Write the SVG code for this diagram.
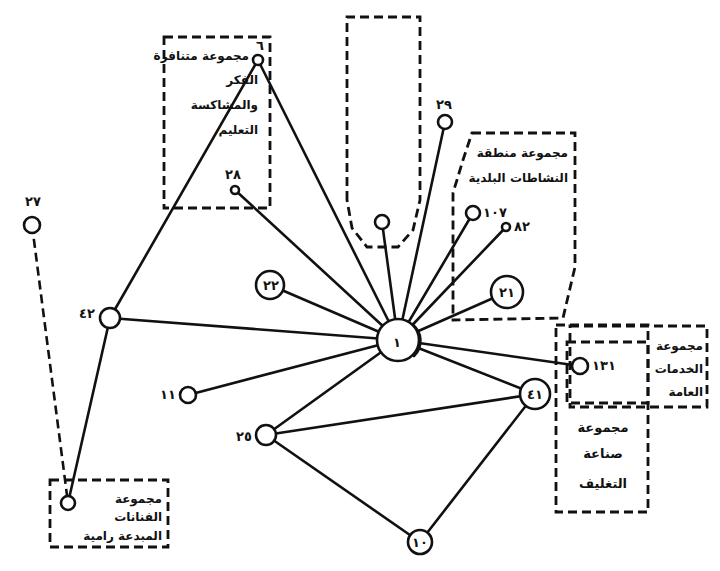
<svg xmlns="http://www.w3.org/2000/svg" width="720" height="571" viewBox="0 0 720 571">
<style>
.e{stroke:#111;stroke-width:2.6;fill:none;stroke-linecap:round}
.d{stroke:#111;stroke-width:2.6;fill:none;stroke-dasharray:9 5}
.g{stroke:#111;stroke-width:2.8;fill:none;stroke-dasharray:9 5}
.n{stroke:#111;stroke-width:2.6;fill:#fff}
.t{font-family:"DejaVu Sans",sans-serif;font-size:13px;font-weight:bold;fill:#111;text-anchor:middle}
.b{font-family:"DejaVu Sans",sans-serif;font-size:12px;font-weight:bold;fill:#111;text-anchor:end}
</style>
<rect width="720" height="571" fill="#fff"/>
<g id="groups">
<rect id="box-topleft" class="g" x="164" y="37" width="106" height="171"/>
<path id="box-tall" class="g" d="M347,200 L347,17 L420,17 L420,200 L413,230 L398,247 L367,247 L352,228 Z"/>
<path id="box-107" class="g" d="M472,133 L575,133 L575,267 L563,318 L453,320 L453,193 L463,160 Z"/>
<rect id="box-services" class="g" x="570" y="326" width="137" height="81"/>
<rect id="box-131" class="g" x="567" y="342" width="81" height="61"/>
<rect id="box-industry" class="g" x="556" y="325" width="92" height="187"/>
<rect id="box-bottomleft" class="g" x="50" y="480" width="118" height="67"/>
<text class="b" x="249" y="60">مجموعة متنافرة</text>
<text class="b" x="258" y="84">الفكر</text>
<text class="b" x="258" y="109">والمشاكسة</text>
<text class="b" x="258" y="134">التعليم</text>
<text class="b" x="568" y="157">مجموعة منطقة</text>
<text class="b" x="568" y="182">النشاطات البلدية</text>
<text class="b" x="703" y="350">مجموعة</text>
<text class="b" x="703" y="373">الخدمات</text>
<text class="b" x="703" y="396">العامة</text>
<text class="t" x="603" y="432">مجموعة</text>
<text class="t" x="603" y="458">صناعة</text>
<text class="t" x="603" y="488">التغليف</text>
<text class="b" x="162" y="503">مجموعة</text>
<text class="b" x="162" y="521">الفنانات</text>
<text class="b" x="162" y="540">المبدعة رامية</text>
</g>
<g id="connectors">
<line class="e" x1="258" y1="60" x2="398" y2="340"/>
<line class="e" x1="258" y1="60" x2="110" y2="318"/>
<line class="e" x1="235" y1="190" x2="398" y2="340"/>
<line class="e" x1="382" y1="222" x2="398" y2="340"/>
<line class="e" x1="445" y1="122" x2="398" y2="340"/>
<line class="e" x1="473" y1="213" x2="398" y2="340"/>
<line class="e" x1="506" y1="227" x2="398" y2="340"/>
<line class="e" x1="507" y1="292" x2="398" y2="340"/>
<line class="e" x1="270" y1="285" x2="398" y2="340"/>
<line class="e" x1="110" y1="318" x2="398" y2="340"/>
<line class="e" x1="188" y1="395" x2="398" y2="340"/>
<line class="e" x1="266" y1="435" x2="398" y2="340"/>
<line class="e" x1="580" y1="366" x2="398" y2="340"/>
<line class="e" x1="535" y1="394" x2="398" y2="340"/>
<line class="e" x1="535" y1="394" x2="266" y2="435"/>
<line class="e" x1="535" y1="394" x2="420" y2="542"/>
<line class="e" x1="266" y1="435" x2="420" y2="542"/>
<line class="e" x1="110" y1="318" x2="68" y2="503"/>
<line class="d" x1="32" y1="225" x2="68" y2="503"/>
</g>
<g id="n1"><circle class="n" cx="398" cy="340" r="21"/><path class="e" d="M412,324 A21,21 0 0 1 414,356"/><text class="t" x="397" y="347" font-size="18">١</text></g>
<g id="n-top"><circle class="n" cx="258" cy="60" r="5"/><text class="t" x="260" y="50" font-size="9">٦</text></g>
<g id="n28"><circle class="n" cx="235" cy="190" r="4"/><text class="t" x="233" y="179" font-size="11">٢٨</text></g>
<g id="n-box"><circle class="n" cx="382" cy="222" r="7"/></g>
<g id="n29"><circle class="n" cx="445" cy="122" r="7"/><text class="t" x="444" y="109" font-size="11">٢٩</text></g>
<g id="n107"><circle class="n" cx="473" cy="213" r="7"/><text class="t" x="495" y="217" font-size="11">١٠٧</text></g>
<g id="n82"><circle class="n" cx="506" cy="227" r="4"/><text class="t" x="522" y="231" font-size="11">٨٢</text></g>
<g id="n21"><circle class="n" cx="507" cy="292" r="16"/><text class="t" x="507" y="297" font-size="12">٢١</text></g>
<g id="n22"><circle class="n" cx="270" cy="285" r="14"/><text class="t" x="271" y="290" font-size="11">٢٢</text></g>
<g id="n42"><circle class="n" cx="110" cy="318" r="10"/><text class="t" x="87" y="318" font-size="11">٤٢</text></g>
<g id="n27"><circle class="n" cx="32" cy="225" r="8"/><text class="t" x="33" y="206" font-size="11">٢٧</text></g>
<g id="n-bl"><circle class="n" cx="68" cy="503" r="7"/></g>
<g id="n11"><circle class="n" cx="188" cy="395" r="8"/><text class="t" x="168" y="399" font-size="11">١١</text></g>
<g id="n25"><circle class="n" cx="266" cy="435" r="10"/><text class="t" x="244" y="441" font-size="11">٢٥</text></g>
<g id="n41"><circle class="n" cx="535" cy="394" r="15"/><text class="t" x="535" y="399" font-size="12">٤١</text></g>
<g id="n10"><circle class="n" cx="420" cy="542" r="12"/><text class="t" x="420" y="547" font-size="11">١٠</text></g>
<g id="n131"><circle class="n" cx="580" cy="366" r="8"/><text class="t" x="604" y="370" font-size="11">١٣١</text></g>
</svg>
